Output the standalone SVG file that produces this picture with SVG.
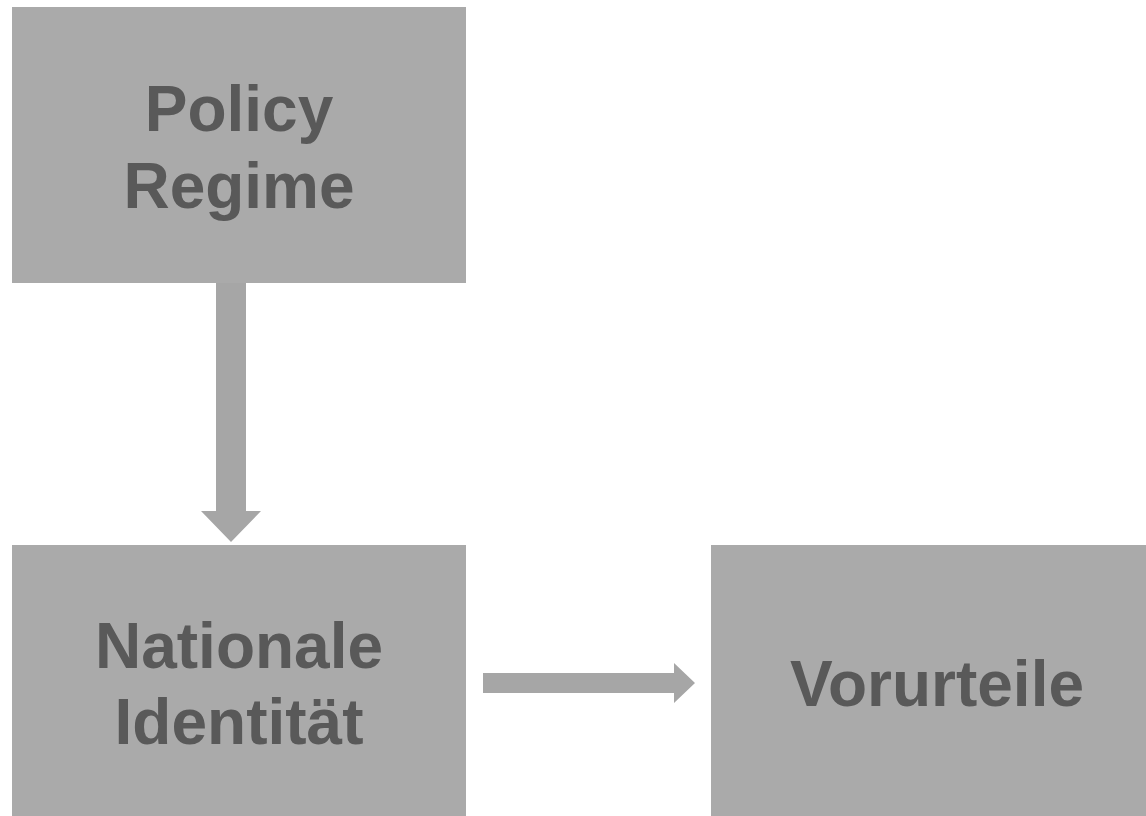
<svg xmlns="http://www.w3.org/2000/svg" width="1146" height="816" viewBox="0 0 1146 816">
<style>
.box{fill:#aaaaaa}
.lbl{font-family:"Liberation Sans",Arial,sans-serif;font-weight:bold;font-size:64px;fill:#595959;text-anchor:middle}
.arr{fill:#a6a6a6}
</style>
<rect width="1146" height="816" fill="#ffffff"/>
<g id="connectors">
<polygon class="arr" points="216,283 246,283 246,511 261,511 231,542 201,511 216,511"/>
<polygon class="arr" points="483,673 674,673 674,663 695,683 674,703 674,693 483,693"/>
</g>
<g id="policy">
<rect class="box" x="12" y="7" width="454" height="276"/>
<text class="lbl" x="239" y="131">Policy</text>
<text class="lbl" x="239" y="208">Regime</text>
</g>
<g id="identitaet">
<rect class="box" x="12" y="545" width="454" height="271"/>
<text class="lbl" x="239" y="668">Nationale</text>
<text class="lbl" x="239" y="744">Identität</text>
</g>
<g id="vorurteile">
<rect class="box" x="711" y="545" width="435" height="271"/>
<text class="lbl" x="937" y="706">Vorurteile</text>
</g>
</svg>
